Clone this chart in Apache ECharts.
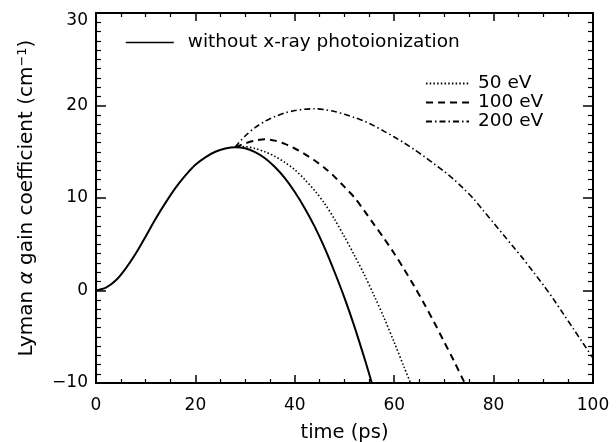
<!DOCTYPE html>
<html>
<head>
<meta charset="utf-8">
<script src="https://cdn.jsdelivr.net/npm/echarts@6/dist/echarts.min.js"></script>
<style>
html,body{margin:0;padding:0;background:#fff;}
#c{width:616px;height:442px;}
</style>
</head>
<body>
<div id="c"></div>
<script>
// time (ps) and Lyman-alpha gain (cm^-1)
const tSolid = [0, 2, 4, 6, 8, 10, 12, 14, 16, 18, 20, 22, 24, 26, 28, 30, 32, 34, 36, 38, 40, 42, 44, 46, 48, 50, 52, 54, 55.5];
const gSolid = [0, 0.3, 1.1, 2.4, 4.0, 5.85, 7.75, 9.5, 11.1, 12.45, 13.6, 14.4, 15.0, 15.35, 15.5, 15.37, 14.95, 14.3, 13.35, 12.15, 10.65, 8.9, 6.9, 4.6, 2.0, -0.8, -3.9, -7.3, -10];

const t50 = [28, 30, 32, 34, 36, 38, 40, 42, 44, 46, 48, 50, 52, 54, 56, 58, 60, 62, 63.3];
const g50 = [15.5, 15.55, 15.35, 15.0, 14.5, 13.85, 13.05, 12.0, 10.8, 9.4, 7.7, 5.8, 3.8, 1.7, -0.6, -3.0, -5.6, -8.3, -10];

const t100 = [28, 30, 32, 34, 36, 38, 40, 42, 44, 46, 48, 50, 52, 54, 56, 58, 60, 62, 64, 66, 68, 70, 72, 74, 74.2];
const g100 = [15.5, 15.9, 16.2, 16.35, 16.2, 15.85, 15.35, 14.75, 14.05, 13.25, 12.3, 11.2, 10.05, 8.6, 7.1, 5.6, 4.0, 2.3, 0.5, -1.4, -3.4, -5.5, -7.6, -9.8, -10];

const t200 = [28, 30, 32, 34, 36, 38, 40, 42, 44, 46, 48, 50, 52, 54, 56, 58, 60, 62, 64, 66, 68, 70, 72, 74, 76, 78, 80, 82, 84, 86, 88, 90, 92, 94, 96, 98, 100];
const g200 = [15.5, 16.7, 17.6, 18.3, 18.8, 19.2, 19.45, 19.6, 19.65, 19.55, 19.35, 19.05, 18.7, 18.3, 17.8, 17.2, 16.6, 15.95, 15.25, 14.5, 13.7, 12.9, 12.0, 11.0, 9.9, 8.6, 7.3, 6.0, 4.7, 3.4, 2.0, 0.6, -0.9, -2.5, -4.1, -5.7, -7.3];

const seriesNames = ['without x-ray photoionization', '50 eV', '100 eV', '200 eV'];
const xTicks = [0, 20, 40, 60, 80, 100];
const yTicks = [-10, 0, 10, 20, 30];

const pair = (t, g) => t.map((v, i) => [v, g[i]]);

const FONT = 'DejaVu Sans';
const chart = echarts.init(document.getElementById('c'), null, {renderer: 'canvas'});

const axisLineStyle = {color: '#000', width: 2};
const commonX = {
  type: 'value', min: xTicks[0], max: xTicks[xTicks.length - 1], interval: 20,
  axisLine: {show: true, onZero: false, lineStyle: axisLineStyle},
  axisTick: {show: true, inside: true, length: 8, lineStyle: {color: '#000', width: 1.5}},
  minorTick: {show: true, splitNumber: 4, length: 4, lineStyle: {color: '#000', width: 1.2}},
  splitLine: {show: false}
};
const commonY = {
  type: 'value', min: yTicks[0], max: yTicks[yTicks.length - 1], interval: 10,
  axisLine: {show: true, onZero: false, lineStyle: axisLineStyle},
  axisTick: {show: true, inside: true, length: 10, lineStyle: {color: '#000', width: 1.5}},
  minorTick: {show: true, splitNumber: 10, length: 5, lineStyle: {color: '#000', width: 1.2}},
  splitLine: {show: false}
};

chart.setOption({
  animation: false,
  backgroundColor: '#fff',
  textStyle: {fontFamily: FONT},
  grid: {left: 96, right: 23, top: 13, bottom: 59, containLabel: false, outerBoundsMode: 'none'},
  legend: [
    {
      data: [seriesNames[0]], left: 120, top: 28, itemWidth: 48, itemHeight: 10, itemGap: 6,
      itemStyle: {opacity: 0},
      lineStyle: {width: 1.6},
      textStyle: {fontFamily: FONT, fontSize: 18.5, color: '#000', padding: [0, 0, 0, 9]}
    },
    {
      data: seriesNames.slice(1), left: 420, top: 69, orient: 'vertical',
      itemWidth: 43, itemHeight: 10, itemGap: 0,
      itemStyle: {opacity: 0},
      textStyle: {fontFamily: FONT, fontSize: 18.5, color: '#000', padding: [0, 0, 0, 4]}
    }
  ],
  xAxis: [
    Object.assign({}, commonX, {
      position: 'bottom',
      axisLabel: {show: true, color: '#000', fontSize: 17, fontFamily: FONT, margin: 14},
      name: 'time (ps)', nameLocation: 'middle', nameGap: 40,
      nameTextStyle: {color: '#000', fontSize: 19.5, fontFamily: FONT}
    }),
    Object.assign({}, commonX, {position: 'top', axisLabel: {show: false}})
  ],
  yAxis: [
    Object.assign({}, commonY, {
      position: 'left',
      axisLabel: {
        show: true, color: '#000', fontSize: 17, fontFamily: FONT, margin: 8,
        formatter: v => (v === 30 ? '{t|30}' : (v < 0 ? '\u2212' + Math.abs(v) : String(v))),
        rich: {t: {fontSize: 17, fontFamily: FONT, color: '#000', padding: [15, 0, 0, 0]}}
      },
      name: 'Lyman {a|\u03b1} gain coefficient (cm{s|\u22121})',
      nameLocation: 'middle', nameGap: 58, nameRotate: 90,
      nameTextStyle: {
        color: '#000', fontSize: 20, fontFamily: FONT,
        rich: {
          a: {fontSize: 20, fontFamily: FONT, fontStyle: 'italic', color: '#000'},
          s: {fontSize: 13, fontFamily: FONT, color: '#000', verticalAlign: 'top', padding: [0, 0, 9, 0]}
        }
      }
    }),
    Object.assign({}, commonY, {position: 'right', axisLabel: {show: false}})
  ],
  series: [
    {
      name: seriesNames[0], type: 'line', data: pair(tSolid, gSolid), smooth: 0.3,
      showSymbol: false, symbol: 'none', clip: true,
      lineStyle: {color: '#000', width: 2, type: 'solid'}, itemStyle: {color: '#000'}
    },
    {
      name: seriesNames[1], type: 'line', data: pair(t50, g50), smooth: 0.3,
      showSymbol: false, symbol: 'none', clip: true,
      lineStyle: {color: '#000', width: 1.6, type: [1.5, 2.2]}, itemStyle: {color: '#000'}
    },
    {
      name: seriesNames[2], type: 'line', data: pair(t100, g100), smooth: 0.3,
      showSymbol: false, symbol: 'none', clip: true,
      lineStyle: {color: '#000', width: 2, type: [7, 5]}, itemStyle: {color: '#000'}
    },
    {
      name: seriesNames[3], type: 'line', data: pair(t200, g200), smooth: 0.3,
      showSymbol: false, symbol: 'none', clip: true,
      lineStyle: {color: '#000', width: 1.6, type: [6, 3, 1.5, 3]}, itemStyle: {color: '#000'}
    }
  ]
});
</script>
</body>
</html>
